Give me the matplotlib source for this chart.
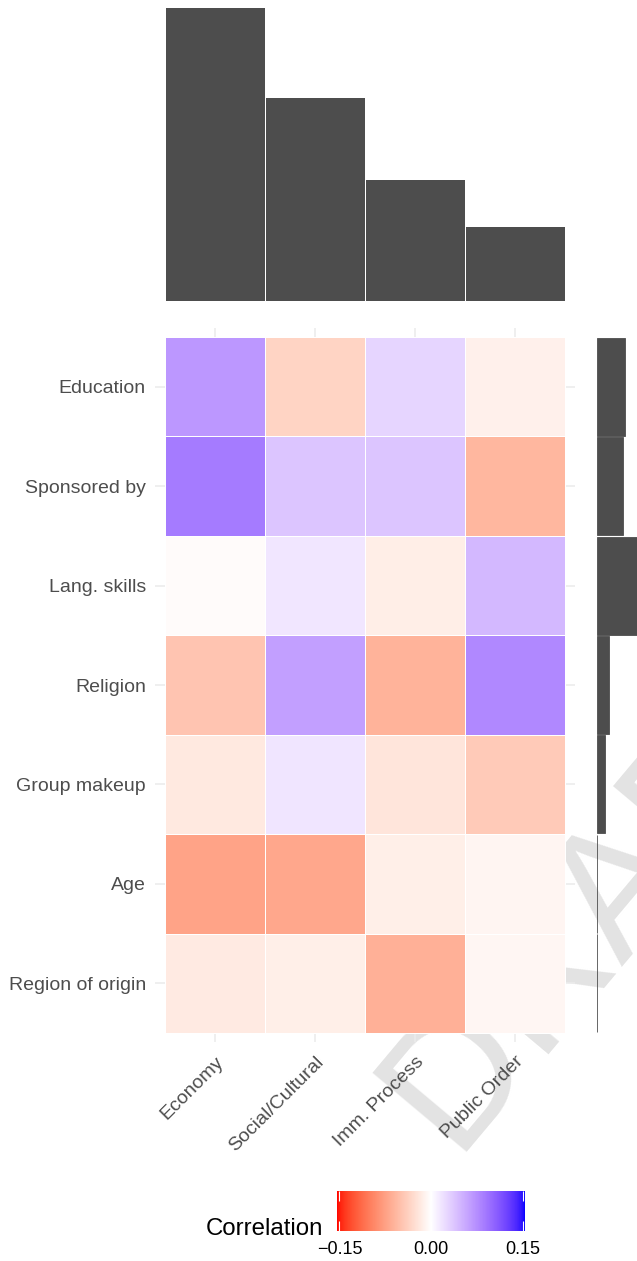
import numpy as np
import matplotlib
matplotlib.use("Agg")
import matplotlib.pyplot as plt
from matplotlib.colors import ListedColormap, Normalize

plt.rcParams["font.family"] = ["Liberation Sans", "DejaVu Sans"]

# rows of the heatmap (top to bottom) and columns (left to right)
attributes = ["Education", "Sponsored by", "Lang. skills", "Religion",
              "Group makeup", "Age", "Region of origin"]
dimensions = ["Economy", "Social/Cultural", "Imm. Process", "Public Order"]

# correlation between each attribute and each dimension
corr = np.array([
    [0.069, -0.035, 0.028, -0.012],
    [0.088, 0.038, 0.038, -0.058],
    [-0.003, 0.016, -0.014, 0.047],
    [-0.047, 0.063, -0.061, 0.079],
    [-0.018, 0.017, -0.021, -0.043],
    [-0.073, -0.070, -0.013, -0.008],
    [-0.017, -0.013, -0.063, -0.007],
])

# marginal weights (top bars for dimensions, right bars for attributes)
dim_weight = [1.0, 0.693, 0.413, 0.253]
attr_weight = [0.70, 0.64, 1.0, 0.30, 0.20, 0.004, 0.003]

cbar_ticks = [-0.15, 0.0, 0.15]
cbar_labels = ["\u22120.15", "0.00", "0.15"]
lim = 0.154

W, H = 637, 1261
GREY = "#4D4D4D"


# ---- Lab interpolated red-white-blue palette (like scale_fill_gradient2) ----
M = np.array([[0.4124, 0.3576, 0.1805],
              [0.2126, 0.7152, 0.0722],
              [0.0193, 0.1192, 0.9505]])
WHITE_XYZ = np.array([0.95047, 1.0, 1.08883])


def srgb_to_lab(rgb):
    rgb = np.asarray(rgb, float)
    lin = np.where(rgb <= 0.04045, rgb / 12.92, ((rgb + 0.055) / 1.055) ** 2.4)
    t = (M @ lin) / WHITE_XYZ
    f = np.where(t > (6 / 29) ** 3, np.cbrt(t), t / (3 * (6 / 29) ** 2) + 4 / 29)
    return np.array([116 * f[1] - 16, 500 * (f[0] - f[1]), 200 * (f[1] - f[2])])


def lab_to_srgb(lab):
    L, a, b = lab
    fy = (L + 16) / 116
    f = np.array([fy + a / 500, fy, fy - b / 200])
    t = np.where(f > 6 / 29, f ** 3, 3 * (6 / 29) ** 2 * (f - 4 / 29))
    lin = np.clip(np.linalg.inv(M) @ (t * WHITE_XYZ), 0, 1)
    rgb = np.where(lin <= 0.0031308, 12.92 * lin, 1.055 * lin ** (1 / 2.4) - 0.055)
    return np.clip(rgb, 0, 1)


lab_red = srgb_to_lab([1, 0, 0])
lab_white = srgb_to_lab([1, 1, 1])
lab_blue = srgb_to_lab([0, 0, 1])
cols = []
for s in np.linspace(-1, 1, 511):
    end = lab_red if s < 0 else lab_blue
    cols.append(lab_to_srgb(lab_white + abs(s) * (end - lab_white)))
cmap = ListedColormap(cols)
norm = Normalize(-lim, lim)


def px_axes(fig, x0, y0, x1, y1):
    return fig.add_axes([x0 / W, 1 - y1 / H, (x1 - x0) / W, (y1 - y0) / H])


fig = plt.figure(figsize=(W / 100, H / 100), dpi=100)

# watermark behind everything
fig.text(452 / W, 1 - 1152 / H, "DRAFT", rotation=50, rotation_mode="anchor",
         ha="left", va="baseline", fontsize=128, color="#E3E3E3", zorder=-5)

n_row, n_col = corr.shape
xc = np.arange(1, n_col + 1)
yc = np.arange(1, n_row + 1)

# heatmap
ax = px_axes(fig, 155, 328, 575, 1042)
ax.set_facecolor("none")
for v in xc:
    ax.axvline(v, color="#EBEBEB", lw=1.1, zorder=0)
for v in yc:
    ax.axhline(v, color="#EBEBEB", lw=1.1, zorder=0)
mesh = ax.pcolormesh(np.arange(0.5, n_col + 1), np.arange(0.5, n_row + 1), corr,
                     cmap=cmap, norm=norm, edgecolors="white", linewidth=0.5, zorder=2)
ax.set_xlim(0.4, n_col + 0.6)
ax.set_ylim(n_row + 0.59, 0.41)
ax.set_xticks(xc, dimensions)
ax.set_yticks(yc, attributes)
ax.tick_params(length=0, labelsize=14, labelcolor=GREY)
ax.tick_params(axis="y", pad=6.5)
ax.tick_params(axis="x", pad=8)
for lab in ax.get_xticklabels():
    lab.set_rotation(45)
    lab.set_ha("right")
    lab.set_va("top")
    lab.set_rotation_mode("anchor")
for s in ax.spines.values():
    s.set_visible(False)

# top marginal bars
axt = px_axes(fig, 155, 8, 575, 301)
axt.set_facecolor("none")
axt.bar(xc, dim_weight, width=0.99, color=GREY, linewidth=0)
axt.set_xlim(0.4, n_col + 0.6)
axt.set_ylim(0, max(dim_weight))
axt.axis("off")

# right marginal bars
axr = px_axes(fig, 597, 328, 637, 1042)
axr.set_facecolor("none")
axr.barh(yc, attr_weight, height=0.985, color=GREY, edgecolor=GREY, linewidth=0.6)
axr.set_ylim(n_row + 0.59, 0.41)
axr.set_xlim(0, max(attr_weight))
axr.axis("off")

# colour bar
cax = px_axes(fig, 337, 1191, 525, 1231)
cb = fig.colorbar(mesh, cax=cax, orientation="horizontal", ticks=cbar_ticks)
cb.set_ticklabels(cbar_labels)
cb.outline.set_visible(False)
cax.tick_params(direction="in", colors="white", length=7, width=0.8,
                top=True, bottom=True, labelcolor="black", labelsize=13, pad=7)
fig.text(323 / W, 1 - 1235 / H, "Correlation", ha="right", va="baseline", fontsize=17.3)

fig.savefig("out.png", dpi=100)
